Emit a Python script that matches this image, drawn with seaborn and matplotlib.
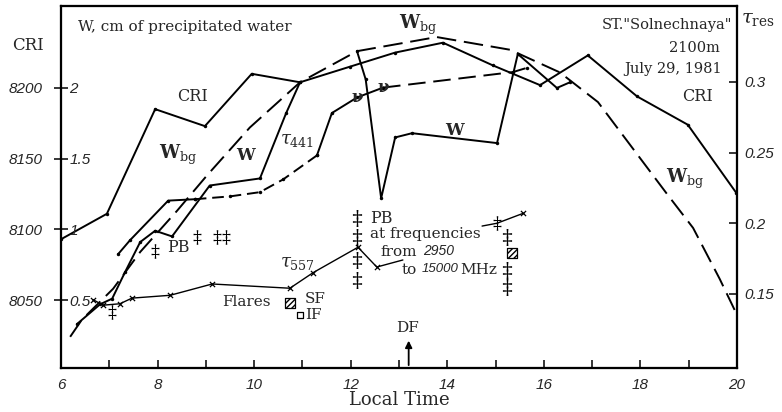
import numpy as np
import pandas as pd
import seaborn as sns
import matplotlib.pyplot as plt

# ---- data (local time in hours) ----
# cosmic ray intensity, left outer scale
cri_t = [6.0, 6.95, 7.95, 8.98, 9.95, 10.95, 11.98, 12.92, 13.91, 14.94, 15.92, 16.91, 17.93, 18.98, 19.98]
cri_v = [8093, 8111, 8185, 8173, 8210, 8204, 8215, 8225, 8232, 8216, 8202, 8223, 8194, 8174, 8126]

# background precipitated water W_bg, cm
wbg_t = [6.19, 6.43, 7.08, 7.64, 8.40, 9.02, 9.91, 10.95, 12.13, 13.78, 15.30, 16.33, 17.12, 18.55, 19.09, 19.64, 19.95]
wbg_v = [0.24, 0.36, 0.58, 0.84, 1.13, 1.38, 1.72, 2.04, 2.26, 2.36, 2.27, 2.11, 1.90, 1.25, 1.01, 0.65, 0.43]

# measured W, cm (two pieces, W follows W_bg in between)
w1_t = [6.33, 6.81, 7.06, 7.33, 7.64, 7.95, 8.30, 9.08, 10.12, 10.66, 10.95]
w1_v = [0.33, 0.47, 0.51, 0.70, 0.91, 0.99, 0.95, 1.31, 1.36, 1.82, 2.04]
w2_t = [12.13, 12.31, 12.63, 12.92, 13.27, 15.03, 15.46, 16.27, 16.54]
w2_v = [2.26, 2.06, 1.22, 1.65, 1.68, 1.61, 2.24, 2.00, 2.04]

# residual optical depth at 441 nm
t441_t = [7.18, 7.43, 8.22, 8.77, 9.50, 10.12, 10.60, 11.30, 11.61, 12.13, 12.67, 15.36, 15.65]
t441_v = [0.178, 0.188, 0.216, 0.217, 0.219, 0.222, 0.231, 0.248, 0.278, 0.289, 0.296, 0.307, 0.310]

# residual optical depth at 557 nm
t557a_t = [6.66, 6.87, 7.22, 7.47, 8.26, 9.13, 10.74, 11.22, 12.15, 12.54, 13.08]
t557a_v = [0.146, 0.142, 0.143, 0.147, 0.149, 0.157, 0.154, 0.165, 0.183, 0.169, 0.174]
t557b_t = [14.72, 15.03, 15.57]
t557b_v = [0.198, 0.200, 0.207]

# radio bursts (PB) and flares
pb_t = [7.06, 7.95, 8.82, 9.23, 9.42, 15.03]
pb_v = [0.137, 0.180, 0.190, 0.190, 0.190, 0.200]
pbf_t = [12.13, 12.13, 12.13, 12.13, 15.23, 15.23, 15.23]
pbf_v = [0.204, 0.190, 0.174, 0.160, 0.190, 0.167, 0.155]
sf_t = [10.74, 15.34]
sf_v = [0.1436, 0.179]
if_t = [10.95]
if_v = [0.135]

sns.set_style("ticks")
plt.rcParams['font.family'] = ['DejaVu Serif']
plt.rcParams['mathtext.fontset'] = 'dejavuserif'

fig = plt.figure(figsize=(7.82, 4.12), dpi=100)
ax = fig.add_axes([0.078, 0.107, 0.8645, 0.8786])
ax_w = ax.twinx()
ax_t = ax.twinx()

lw = 1.4
k = 'black'

# CRI
sns.lineplot(x=cri_t, y=cri_v, ax=ax, color=k, lw=lw, marker='o', markersize=2.5,
             markeredgewidth=0, estimator=None, sort=False)

# W_bg and W
sns.lineplot(x=wbg_t, y=wbg_v, ax=ax_w, color=k, lw=lw, ls=(0, (10, 4)),
             estimator=None, sort=False)
for tt, vv in [(w1_t, w1_v), (w2_t, w2_v)]:
    sns.lineplot(x=tt, y=vv, ax=ax_w, color=k, lw=lw, marker='o', markersize=2.5,
                 markeredgewidth=0, estimator=None, sort=False)

# tau 441: solid / dashed pieces
pieces = [(0, 4, '-'), (3, 8, (0, (6, 3))), (7, 11, '-'), (10, 13, (0, (9, 4)))]
for a, b, st in pieces:
    sns.lineplot(x=t441_t[a:b], y=t441_v[a:b], ax=ax_t, color=k, lw=lw, ls=st,
                 marker='o', markersize=2.5, markeredgewidth=0, estimator=None, sort=False)
for tt, vv in zip(t441_t[9:11], t441_v[9:11]):
    ax_t.text(tt, vv, 'ν', fontsize=12, fontweight='bold', ha='center', va='center')

# tau 557
sns.lineplot(x=t557a_t, y=t557a_v, ax=ax_t, color=k, lw=1.0, estimator=None, sort=False)
sns.lineplot(x=t557b_t, y=t557b_v, ax=ax_t, color=k, lw=1.0, estimator=None, sort=False)
sns.scatterplot(x=t557a_t[:-1] + t557b_t[2:], y=t557a_v[:-1] + t557b_v[2:], ax=ax_t,
                marker='x', s=14, color=k, linewidth=0.9)

# bursts and flares
sns.scatterplot(x=pb_t, y=pb_v, ax=ax_t, marker=r'$\ddagger$', s=110, color=k, linewidth=0)
sns.scatterplot(x=pbf_t, y=pbf_v, ax=ax_t, marker=r'$\ddagger$', s=150, color=k, linewidth=0)
sns.scatterplot(x=sf_t, y=sf_v, ax=ax_t, marker='s', s=45, facecolor='white',
                edgecolor=k, hatch='//////', linewidth=0.9)
sns.scatterplot(x=if_t, y=if_v, ax=ax_t, marker='s', s=18, facecolor='white',
                edgecolor=k, linewidth=0.9)

# ---- axes ----
ax.set_xlim(6, 20)
ax.set_ylim(8002, 8258)
ax_w.set_ylim(0.02, 2.58)
ax_t.set_ylim(0.0976, 0.3538)

tick_font = dict(family='Liberation Sans', style='italic', size=11)

ax.set_xticks(range(6, 21, 2))
ax.set_xticks(range(7, 20, 2), minor=True)
ax.set_xticklabels([str(h) for h in range(6, 21, 2)], fontdict=tick_font)
ax.tick_params(axis='x', which='both', direction='in', length=6, width=1.3, pad=7)

ax.set_yticks([8050, 8100, 8150, 8200])
ax.set_yticklabels(['8050', '8100', '8150', '8200'], fontdict=tick_font)
ax.tick_params(axis='y', direction='inout', length=10, width=1.3, pad=8)

ax_w.yaxis.set_ticks_position('left')
ax_w.set_yticks([0.5, 1, 1.5, 2])
ax_w.set_yticklabels(['0.5', '1', '1.5', '2'], fontdict=tick_font)
ax_w.tick_params(axis='y', left=True, right=False, labelleft=True, labelright=False,
                 length=0, pad=-6)
for lbl in ax_w.get_yticklabels():
    lbl.set_ha('left')

ax_t.set_yticks([0.15, 0.2, 0.25, 0.3])
ax_t.set_yticklabels(['0.15', '0.2', '0.25', '0.3'], fontdict=tick_font)
ax_t.tick_params(axis='y', direction='in', length=6, width=1.3, pad=5)

for a in (ax, ax_w, ax_t):
    a.set_xlabel('')
    a.set_ylabel('')
    for sp in a.spines.values():
        sp.set_linewidth(1.5)
        sp.set_color(k)
        sp.set_visible(True)

# ---- labels ----
T = ax.transAxes
ax.text(0.5, -0.088, 'Local Time', transform=T, fontsize=13, ha='center', va='center')
ax.text(0.025, 0.942, 'W, cm of precipitated water', transform=T, fontsize=11, va='center')
ax.text(-0.049, 0.892, 'CRI', transform=T, fontsize=12, ha='center', va='center')
ax.text(1.031, 0.965, r'$\tau_{\rm res}$', transform=T, fontsize=14, ha='center', va='center')
ax.text(0.9926, 0.9475, 'ST."Solnechnaya"', transform=T, fontsize=10.5, ha='right', va='center')
ax.text(0.975, 0.885, '2100m', transform=T, fontsize=10.5, ha='right', va='center')
ax.text(0.978, 0.826, 'July 29, 1981', transform=T, fontsize=10.5, ha='right', va='center')
ax.text(0.195, 0.749, 'CRI', transform=T, fontsize=11.5, ha='center', va='center')
ax.text(0.941, 0.749, 'CRI', transform=T, fontsize=11.5, ha='center', va='center')
for xf, yf in [(0.173, 0.588), (0.528, 0.9475), (0.923, 0.522)]:
    ax.text(xf, yf, r'$\mathbf{W}_{\rm bg}$', transform=T, fontsize=13, ha='center', va='center')
ax.text(0.274, 0.588, r'$\mathbf{W}$', transform=T, fontsize=12, ha='center', va='center')
ax.text(0.583, 0.657, r'$\mathbf{W}$', transform=T, fontsize=12, ha='center', va='center')
ax.text(0.349, 0.63, r'$\tau_{\mathit{441}}$', transform=T, fontsize=13, ha='center', va='center')
ax.text(0.349, 0.29, r'$\tau_{\mathit{557}}$', transform=T, fontsize=13, ha='center', va='center')
ax.text(0.173, 0.334, 'PB', transform=T, fontsize=11.5, ha='center', va='center')
ax.text(0.457, 0.414, 'PB', transform=T, fontsize=11.5, va='center')
ax.text(0.457, 0.370, 'at frequencies', transform=T, fontsize=11, va='center')
ax.text(0.472, 0.320, 'from', transform=T, fontsize=11, va='center')
ax.text(0.5355, 0.322, '2950', transform=T, fontsize=10, family='Liberation Sans',
        style='italic', va='center')
ax.text(0.5044, 0.271, 'to', transform=T, fontsize=11, va='center')
ax.text(0.534, 0.273, '15000', transform=T, fontsize=9.5, family='Liberation Sans',
        style='italic', va='center')
ax.text(0.590, 0.271, 'MHz', transform=T, fontsize=11, va='center')
ax.text(0.238, 0.182, 'Flares', transform=T, fontsize=11, va='center')
ax.text(0.361, 0.191, 'SF', transform=T, fontsize=11, va='center')
ax.text(0.361, 0.146, 'IF', transform=T, fontsize=11, va='center')
ax.text(0.513, 0.110, 'DF', transform=T, fontsize=11, ha='center', va='center')
ax.annotate('', xy=(13.2, 0.083), xytext=(13.2, 0.0), xycoords=('data', 'axes fraction'),
            textcoords=('data', 'axes fraction'),
            arrowprops=dict(arrowstyle='-|>', color=k, lw=1.3, mutation_scale=10))

fig.savefig('out.png', dpi=100)
